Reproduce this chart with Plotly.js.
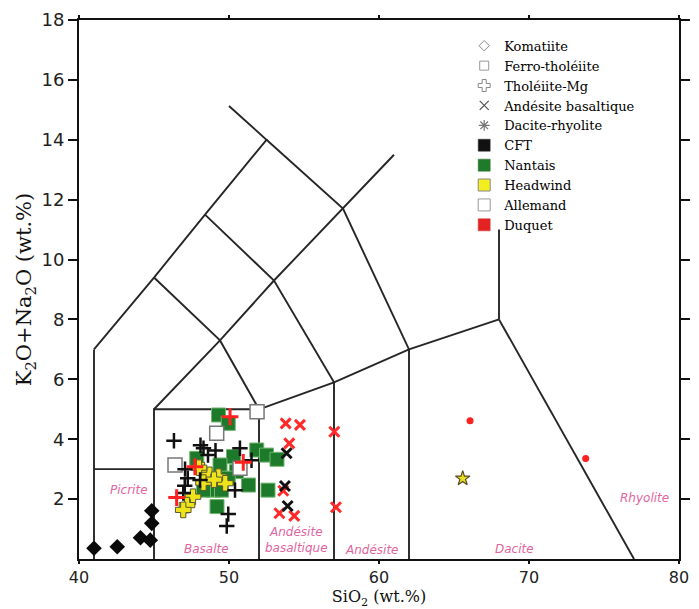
<!DOCTYPE html>
<html>
<head>
<meta charset="utf-8">
<script src="https://cdn.plot.ly/plotly-3.0.1.min.js"></script>
<style>html,body{margin:0;padding:0;background:#fff;}#chart{width:699px;height:609px;}</style>
</head>
<body>
<div id="chart"></div>
<script>
// ---- Data ----
// Komatiite — CFT
const komCftX = [41.0, 42.55, 44.1, 44.75, 44.85, 44.85];
const komCftY = [0.36, 0.41, 0.71, 0.63, 1.61, 1.19];

// Ferro-tholéiite — Nantais / Allemand
const ftNanX = [49.3, 49.95, 51.85, 52.5, 53.2, 52.6, 49.2, 48.95, 49.5, 51.3, 50.3, 50.5, 48.3, 47.85, 49.4, 49.95];
const ftNanY = [4.81, 4.53, 3.64, 3.47, 3.33, 2.30, 1.75, 2.30, 2.30, 2.47, 3.42, 2.92, 2.30, 3.36, 3.14, 2.70];
const ftAllX = [51.87, 49.18, 46.4, 50.73];
const ftAllY = [4.92, 4.20, 3.14, 3.03];

// Tholéiite-Mg — CFT / Duquet / Headwind
const tmCftX = [46.33, 48.1, 48.3, 49.1, 50.73, 49.95, 49.85, 47.07, 47.25, 47.05, 46.95, 51.5, 48.07, 48.6, 50.4];
const tmCftY = [3.95, 3.80, 3.70, 3.62, 3.70, 1.50, 1.10, 3.00, 2.70, 2.45, 2.20, 3.30, 2.64, 3.47, 2.30];
const tmDuqX = [50.07, 47.73, 50.95, 46.51];
const tmDuqY = [4.75, 3.08, 3.23, 2.05];
const tmHeaX = [48.2, 48.7, 49.3, 49.75, 48.3, 47.6, 47.2, 46.95, 48.0, 49.0];
const tmHeaY = [2.97, 2.81, 2.75, 2.53, 2.55, 2.08, 1.80, 1.64, 3.05, 2.65];

// Andésite basaltique — Duquet / CFT
const abDuqX = [53.78, 54.73, 54.02, 57.02, 53.62, 53.36, 54.35, 57.13];
const abDuqY = [4.53, 4.48, 3.86, 4.25, 2.28, 1.53, 1.44, 1.73];
const abCftX = [53.84, 53.73, 53.91];
const abCftY = [3.53, 2.44, 1.77];

// Dacite-rhyolite — Headwind / Duquet
const drHeaX = [65.58];
const drHeaY = [2.69];
const drDuqX = [66.07, 73.78];
const drDuqY = [4.62, 3.36];

// TAS field boundaries (polylines: [x list, y list])
const tasLines = [
  [[41, 41], [0, 7]],
  [[41, 45, 48.4, 52.5, 50], [7, 9.4, 11.5, 14, 15.13]],
  [[41, 45], [3, 3]],
  [[45, 45, 52, 52], [0, 5, 5, 0]],
  [[45, 49.4, 53, 57.6, 61], [5, 7.3, 9.3, 11.7, 13.5]],
  [[52, 57, 62, 68], [5, 5.9, 7, 8]],
  [[45, 49.4, 52], [9.4, 7.3, 5]],
  [[48.4, 53, 57, 57], [11.5, 9.3, 5.9, 0]],
  [[52.5, 57.6, 62, 62], [14, 11.7, 7, 0]],
  [[68, 68], [11, 8]],
  [[68, 77], [8, 0]]
];

// Field names
const fieldNames = ['Picrite', 'Basalte', 'Andésite<br>basaltique', 'Andésite', 'Dacite', 'Rhyolite'];
const fieldX = [43.3, 48.5, 54.5, 59.5, 69.0, 77.7];
const fieldY = [2.3, 0.35, 0.65, 0.3, 0.35, 2.05];

// Legend
const legendNames = ['Komatiite', 'Ferro-tholéiite', 'Tholéiite-Mg', 'Andésite basaltique', 'Dacite-rhyolite',
                     'CFT', 'Nantais', 'Headwind', 'Allemand', 'Duquet'];

// ---- Build traces ----
const traces = [];

// legend-only entries
const legendMarkers = [
  {symbol: 'diamond-open', size: 8, color: '#888', line: {width: 1, color: '#888'}},
  {symbol: 'square-open', size: 9, color: '#999', line: {width: 1, color: '#999'}},
  {symbol: 'cross-open', size: 10, color: '#888', line: {width: 1, color: '#888'}},
  {symbol: 'x-thin-open', size: 9, color: '#555', line: {width: 1.2, color: '#555'}},
  {symbol: 'asterisk-open', size: 9, color: '#777', line: {width: 1.2, color: '#777'}},
  {symbol: 'square', size: 12, color: '#111', line: {width: 0.5, color: '#333'}},
  {symbol: 'square', size: 12, color: '#1e7b2a', line: {width: 0.5, color: '#2a6a30'}},
  {symbol: 'square', size: 12, color: '#f4ee20', line: {width: 1, color: '#888'}},
  {symbol: 'square', size: 12, color: '#ffffff', line: {width: 1, color: '#999'}},
  {symbol: 'square', size: 12, color: '#e52222', line: {width: 0.5, color: '#c33'}}
];
legendNames.forEach((n, i) => {
  traces.push({x: [null], y: [null], type: 'scatter', mode: 'markers', name: n,
    marker: legendMarkers[i], hoverinfo: 'skip'});
});

// boundary lines
const bx = [], by = [];
tasLines.forEach(l => { bx.push(...l[0], null); by.push(...l[1], null); });
traces.push({x: bx, y: by, type: 'scatter', mode: 'lines', showlegend: false, hoverinfo: 'skip',
  line: {color: '#262626', width: 1.9}});

function pts(x, y, marker, name) {
  traces.push({x: x, y: y, type: 'scatter', mode: 'markers', showlegend: false, name: name, marker: marker});
}
pts(komCftX, komCftY, {symbol: 'diamond', size: 12, color: '#0a0a0a'}, 'Komatiite CFT');
pts(ftNanX, ftNanY, {symbol: 'square', size: 14, color: '#1c7a2a', line: {width: 1, color: '#6fb46f'}}, 'Ferro-tholéiite Nantais');
pts(ftAllX, ftAllY, {symbol: 'square', size: 14, color: '#ffffff', line: {width: 1.5, color: '#777'}}, 'Ferro-tholéiite Allemand');
pts(tmHeaX, tmHeaY, {symbol: 'cross', size: 13, color: '#efe41c', line: {width: 1, color: '#5a5a30'}}, 'Tholéiite-Mg Headwind');
pts(tmCftX, tmCftY, {symbol: 'cross-thin', size: 11, color: '#111', line: {width: 2.5, color: '#111'}}, 'Tholéiite-Mg CFT');
pts(tmDuqX, tmDuqY, {symbol: 'cross-thin', size: 12, color: '#ff2020', line: {width: 3, color: '#ff2020'}}, 'Tholéiite-Mg Duquet');
pts(abDuqX, abDuqY, {symbol: 'x-thin', size: 10, color: '#ff2a2a', line: {width: 3, color: '#ff2a2a'}}, 'Andésite basaltique Duquet');
pts(abCftX, abCftY, {symbol: 'x-thin', size: 10, color: '#111', line: {width: 3, color: '#111'}}, 'Andésite basaltique CFT');
pts(drHeaX, drHeaY, {symbol: 'star', size: 11, color: '#e8e020', line: {width: 1.2, color: '#5a4a20'}}, 'Dacite-rhyolite Headwind');
pts(drDuqX, drDuqY, {symbol: 'circle', size: 7, color: '#ff2020'}, 'Dacite-rhyolite Duquet');

const annotations = fieldNames.map((t, i) => ({
  x: fieldX[i], y: fieldY[i], xref: 'x', yref: 'y', text: t, showarrow: false,
  font: {family: 'DejaVu Sans', size: 12, color: '#e2649e', style: 'italic'}
}));

const axisCommon = {
  showgrid: false, zeroline: false, showline: true, linecolor: '#111', linewidth: 2,
  mirror: 'ticks', ticks: 'outside', tickwidth: 2, tickcolor: '#111',
  tickfont: {family: 'DejaVu Sans', size: 18, color: '#222'}
};

const layout = {
  width: 699, height: 609,
  margin: {l: 79, r: 20, t: 20, b: 50},
  paper_bgcolor: '#fff', plot_bgcolor: '#fff',
  showlegend: true,
  legend: {x: 0.642, y: 0.98, xanchor: 'left', yanchor: 'top', bgcolor: 'rgba(255,255,255,0)',
    itemwidth: 30, font: {family: 'DejaVu Serif', size: 13, color: '#000'}, traceorder: 'normal'},
  xaxis: Object.assign({}, axisCommon, {range: [40, 80], tickvals: [40, 50, 60, 70, 80], ticklen: 3,
    tickfont: {family: 'DejaVu Sans', size: 16, color: '#222'},
    title: {text: 'SiO<sub>2</sub> (wt.%)', standoff: 0, font: {family: 'DejaVu Serif', size: 16, color: '#111'}}}),
  yaxis: Object.assign({}, axisCommon, {range: [0, 18], tickvals: [2, 4, 6, 8, 10, 12, 14, 16, 18], ticklen: 9,
    title: {text: 'K<sub>2</sub>O+Na<sub>2</sub>O (wt.%)', standoff: 4, font: {family: 'DejaVu Serif', size: 21, color: '#111'}}}),
  annotations: annotations
};

Plotly.newPlot('chart', traces, layout, {displayModeBar: false, staticPlot: true});
</script>
</body>
</html>
